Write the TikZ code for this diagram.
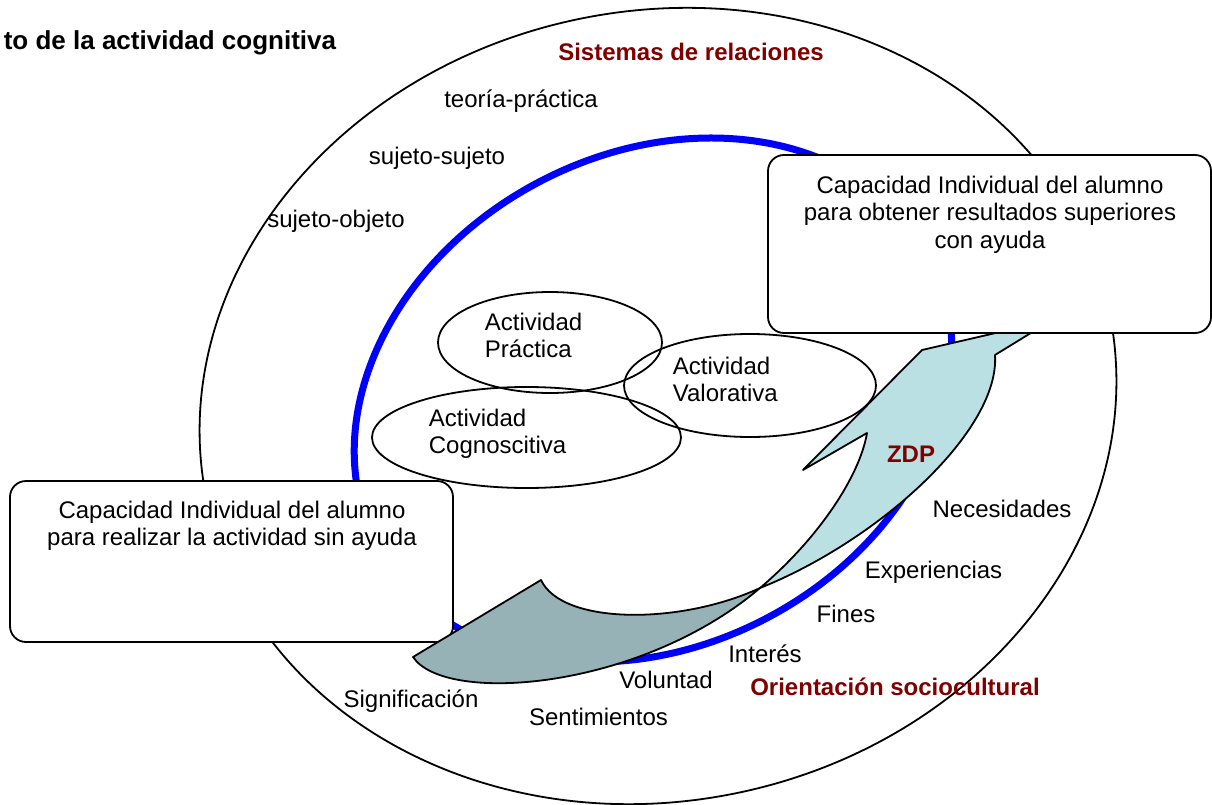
\documentclass[tikz,border=0pt]{standalone}
\usepackage{fontspec}
\setmainfont{Liberation Sans}
\usepackage{tikz}
\usetikzlibrary{shapes.geometric}
\definecolor{zdplight}{RGB}{187,224,227}
\definecolor{zdpdark}{RGB}{150,178,182}
\definecolor{relred}{RGB}{128,0,0}
\tikzset{
  actividad/.style={draw, ellipse},
  capbox/.style={draw, fill=white, rounded corners=16},
  rotulo/.style={text=relred, font=\fontsize{24}{27.5}\selectfont\bfseries},
}

\begin{document}
\begin{tikzpicture}[x=1pt, y=-1pt, line width=1.8pt, inner sep=0pt, font=\fontsize{24}{27.5}\selectfont]
\useasboundingbox (0,0) rectangle (1212,805);
%%%%% Rings %%%%%
\draw[rotate around={12:(658,406)}] (658,406) ellipse [x radius=461, y radius=395];
\draw[blue, line width=7pt, rotate around={28:(653,400)}] (653,400) ellipse [x radius=312, y radius=246];
%%%%% Activities %%%%%
\node[actividad, minimum width=224, minimum height=101] (practica) at (550,342.5) {};
\node[actividad, minimum width=252, minimum height=103] (valorativa) at (750,385.5) {};
\node[actividad, minimum width=309, minimum height=101] (cognosc) at (526.5,437.5) {};
\node[anchor=base west, align=left] (txtpract) at (484,357.5) {Actividad\\Práctica};
\node[anchor=base west, align=left] (txtval) at (672,401.5) {Actividad\\Valorativa};
\node[anchor=base west, align=left] (txtcog) at (428,453.5) {Actividad\\Cognoscitiva};
%%%%% Boxes and arrow %%%%%
\node[capbox, minimum width=443, minimum height=161] (sinayuda) at (231.5,561.5) {};
\coordinate (cruce) at (760,588);
\filldraw[fill=zdpdark, line join=round] (413,657) -- (541,580) .. controls (562,625) and (680,625) .. (cruce)
  .. controls (640,690) and (445,705) .. (413,657) -- cycle;
\filldraw[fill=zdplight, line join=round] (cruce) .. controls (820,537) and (860,475) .. (867,433) -- (803,470)
  -- (922,350) -- (1052,320) -- (995,355) .. controls (1000,430) and (880,540) .. (cruce) -- cycle;
\node[capbox, minimum width=443, minimum height=178] (conayuda) at (989.5,244) {};
\node[anchor=base, align=center] (txtsin) at (232,545.5) {Capacidad Individual del alumno\\para realizar la actividad sin ayuda};
\node[anchor=base, align=center] (txtcon) at (990,248) {Capacidad Individual del alumno\\para obtener resultados superiores\\con ayuda};
%%%%% Labels %%%%%
\node[anchor=base east, font=\fontsize{26}{30}\selectfont\bfseries] (titulo) at (337,50) {to de la actividad cognitiva};
\node[rotulo, anchor=base] (sistemas) at (691,61) {Sistemas de relaciones};
\node[anchor=base] (teopra) at (521,108) {teoría-práctica};
\node[anchor=base] (sujsuj) at (437,165) {sujeto-sujeto};
\node[anchor=base] (sujobj) at (336,227) {sujeto-objeto};
\node[rotulo, anchor=base] (zdp) at (911,462) {ZDP};
\node[anchor=base] (necesid) at (1002,517) {Necesidades};
\node[anchor=base] (experien) at (933.5,578) {Experiencias};
\node[anchor=base] (fines) at (846,622) {Fines};
\node[anchor=base] (interes) at (765,662) {Interés};
\node[anchor=base] (voluntad) at (666,688) {Voluntad};
\node[rotulo, anchor=base] (orient) at (895,695) {Orientación sociocultural};
\node[anchor=base] (signif) at (411,707) {Significación};
\node[anchor=base] (sentim) at (598.5,725) {Sentimientos};
\end{tikzpicture}
\end{document}
